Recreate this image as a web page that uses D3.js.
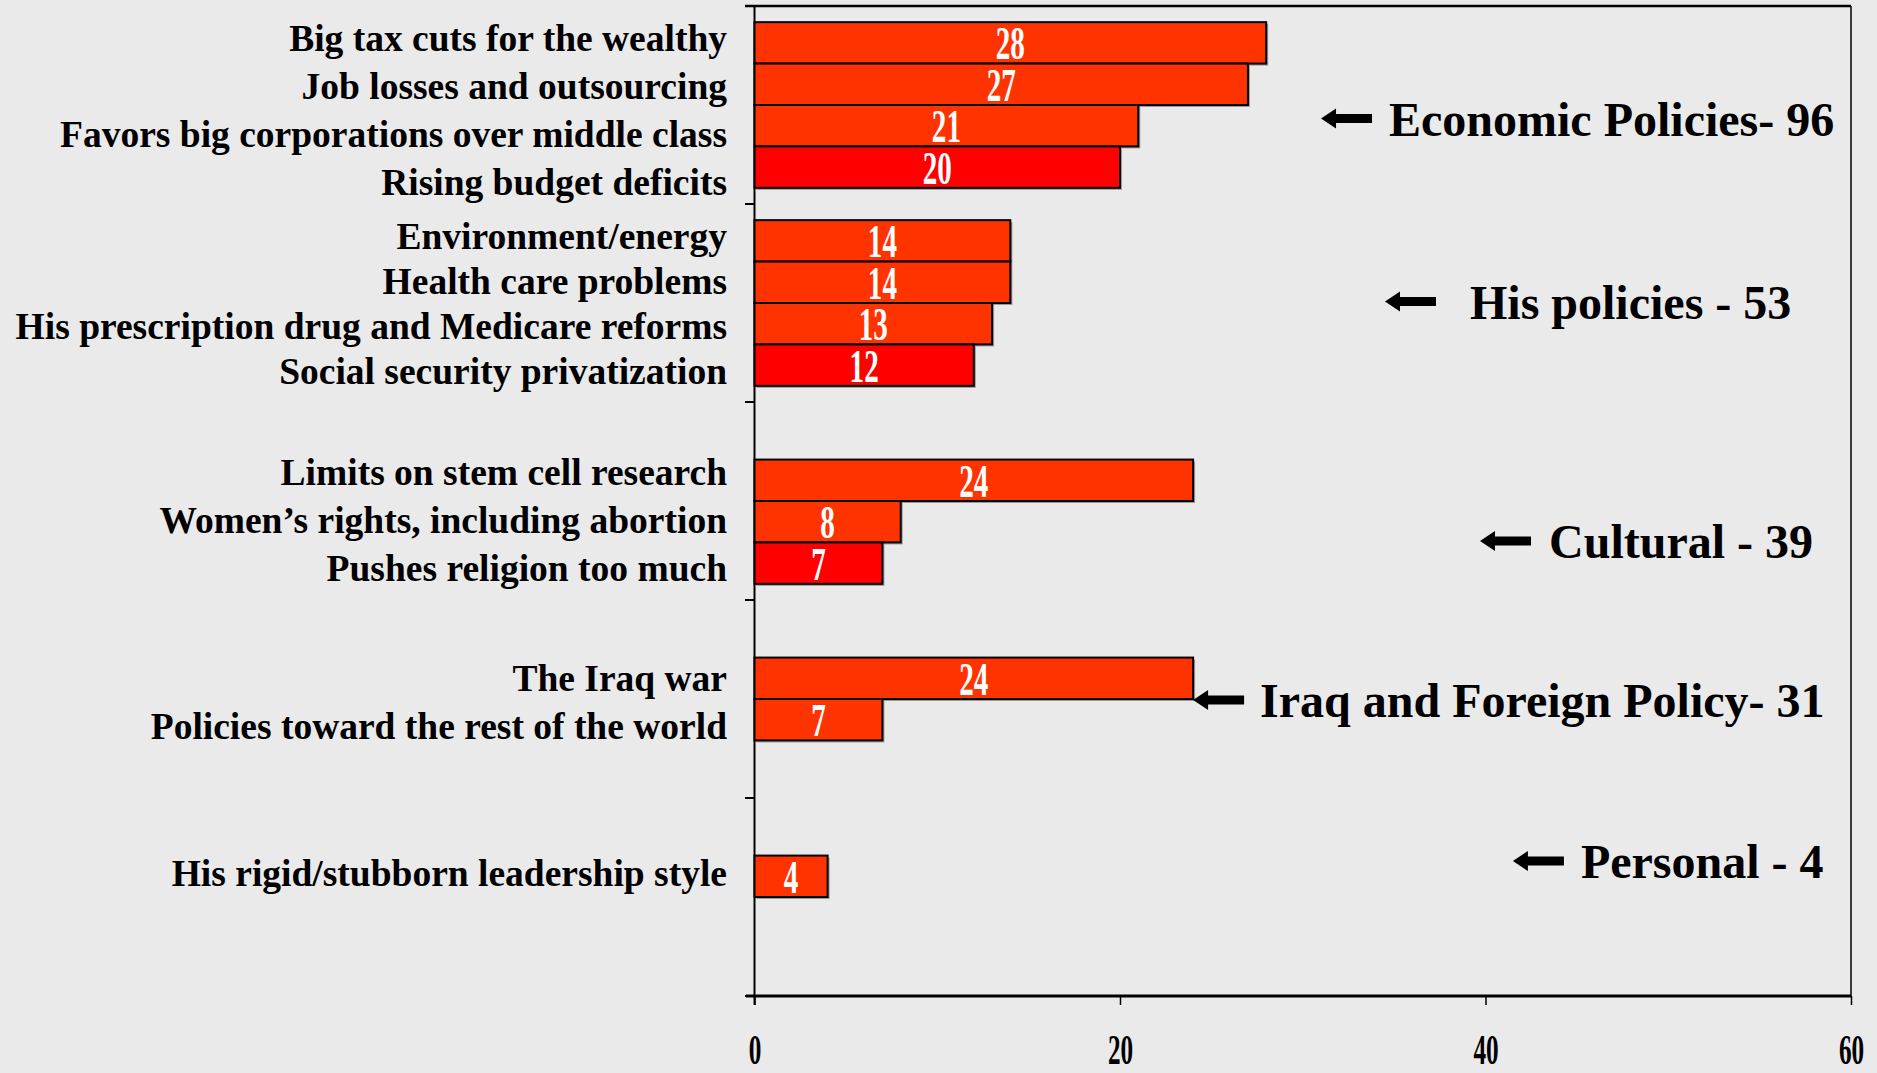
<!DOCTYPE html>
<html><head><meta charset="utf-8">
<script src="https://cdn.jsdelivr.net/npm/d3@7"></script>
<style>
html,body{margin:0;padding:0;background:#EAEAEA;}
svg{display:block;}
text{font-family:"Liberation Serif","Times New Roman",serif;font-weight:bold;}
</style></head>
<body>
<script>
// ---- data ----
const categories = [
  "Big tax cuts for the wealthy",
  "Job losses and outsourcing",
  "Favors big corporations over middle class",
  "Rising budget deficits",
  "Environment/energy",
  "Health care problems",
  "His prescription drug and Medicare reforms",
  "Social security privatization",
  "Limits on stem cell research",
  "Women\u2019s rights, including abortion",
  "Pushes religion too much",
  "The Iraq war",
  "Policies toward the rest of the world",
  "His rigid/stubborn leadership style"
];
const values = [28, 27, 21, 20, 14, 14, 13, 12, 24, 8, 7, 24, 7, 4];
const groupOf = [0, 0, 0, 0, 1, 1, 1, 1, 2, 2, 2, 3, 3, 4];
const seriesOf = [0, 1, 2, 3, 0, 1, 2, 3, 1, 2, 3, 1, 2, 1];
const groupNames = ["Economic Policies- 96", "His policies - 53", "Cultural - 39", "Iraq and Foreign Policy- 31", "Personal - 4"];
const xTicks = [0, 20, 40, 60];

// ---- layout ----
const W = 1877, H = 1073;
const seriesColors = ["#FF3300", "#FF3300", "#FF3300", "#FF0000"];
const svg = d3.select("body").append("svg").attr("width", W).attr("height", H);
svg.append("rect").attr("width", W).attr("height", H).attr("fill", "#EAEAEA");

const x = d3.scaleLinear().domain([0, 60]).range([754.5, 1851]);
const yGroup = d3.scaleBand().domain(d3.range(5)).range([6, 996]).padding(0);
const ySlot = d3.scaleBand().domain(d3.range(4)).range([0, yGroup.bandwidth()]).paddingInner(0).paddingOuter(0.39);

const rows = values.map((v, i) => ({ v, label: categories[i], g: groupOf[i], s: seriesOf[i], i }));
const barY = d => yGroup(d.g) + ySlot(d.s);

// frame
svg.append("line").attr("x1", 745).attr("x2", x(60)).attr("y1", 6).attr("y2", 6).attr("stroke", "#000").attr("stroke-width", 2.5);
svg.append("line").attr("x1", x(60)).attr("x2", x(60)).attr("y1", 6).attr("y2", 996).attr("stroke", "#000").attr("stroke-width", 1.5);

// bottom axis
const xAxis = d3.axisBottom(x).tickValues(xTicks).tickSize(9).tickFormat(d3.format("d"));
const gx = svg.append("g").attr("transform", "translate(0,996)").call(xAxis);
gx.select(".domain").remove();
gx.selectAll(".tick line").attr("stroke", "#000").attr("stroke-width", 1.5);
gx.selectAll(".tick text").remove();
gx.selectAll(".tick").append("text")
  .attr("transform", "translate(0,68) scale(0.6,1)")
  .attr("text-anchor", "middle").attr("fill", "#000")
  .style("font-size", "42px").text(d => d);
svg.append("line").attr("x1", 746).attr("x2", x(60)).attr("y1", 996).attr("y2", 996).attr("stroke", "#000").attr("stroke-width", 3);

// left axis with group boundary ticks
svg.append("line").attr("x1", x(0)).attr("x2", x(0)).attr("y1", 6).attr("y2", 1005).attr("stroke", "#000").attr("stroke-width", 2);
const bounds = d3.range(6).map(k => k < 5 ? yGroup(k) : yGroup(4) + yGroup.bandwidth());
svg.selectAll(".ytick").data(bounds).join("line").attr("class", "ytick")
  .attr("x1", 745).attr("x2", x(0)).attr("y1", d => d).attr("y2", d => d)
  .attr("stroke", "#000").attr("stroke-width", 2);

// bars (shadow + bar)
svg.selectAll(".shadow").data(rows).join("rect").attr("class", "shadow")
  .attr("x", x(0) + 2).attr("y", d => barY(d) + 2)
  .attr("width", d => x(d.v) - x(0)).attr("height", ySlot.bandwidth())
  .attr("fill", "#9a9a9a");
svg.selectAll(".bar").data(rows).join("rect").attr("class", "bar")
  .attr("x", x(0)).attr("y", d => barY(d))
  .attr("width", d => x(d.v) - x(0)).attr("height", ySlot.bandwidth())
  .attr("fill", d => seriesColors[d.s]).attr("stroke", "#000").attr("stroke-width", 2);

// value labels
svg.selectAll(".val").data(rows).join("text").attr("class", "val")
  .attr("transform", d => `translate(${(x(0) + x(d.v)) / 2},${barY(d) + ySlot.bandwidth() / 2 + 16.5}) scale(0.62,1)`)
  .attr("text-anchor", "middle").attr("fill", "#fff")
  .style("font-size", "47px").text(d => d.v);

// category labels, centred on each group's block of bars
const lineGap = [48, 45, 48, 48, 48];
const labelOffset = [18, 13, 11, 15.5, 10];
d3.range(5).forEach(g => {
  const grp = rows.filter(r => r.g === g);
  const c = d3.mean(grp, r => barY(r) + ySlot.bandwidth() / 2);
  const n = grp.length;
  svg.selectAll(".lab" + g).data(grp).join("text")
    .attr("x", 727)
    .attr("y", (r, k) => c + (k - (n - 1) / 2) * lineGap[g] + labelOffset[g])
    .attr("text-anchor", "end").attr("fill", "#000")
    .style("font-size", "37.5px").text(r => r.label);
});

// group annotations with arrows
const annTip = [31, 34.5, 39.7, 24, 41.5];
const annY = [118.5, 301.6, 541, 700, 861];
const annTextDx = [68, 85, 69, 67, 68];
const arrowPath = "M0,0 L15,-10 L15,-4.5 L51,-4.5 L51,4.5 L15,4.5 L15,10 Z";
groupNames.forEach((name, g) => {
  const tx = x(annTip[g]);
  svg.append("path").attr("d", arrowPath).attr("transform", `translate(${tx},${annY[g]})`).attr("fill", "#000");
  svg.append("text").attr("x", tx + annTextDx[g]).attr("y", annY[g] + 17)
    .attr("fill", "#000").style("font-size", "48px").text(name);
});
</script>
</body></html>
